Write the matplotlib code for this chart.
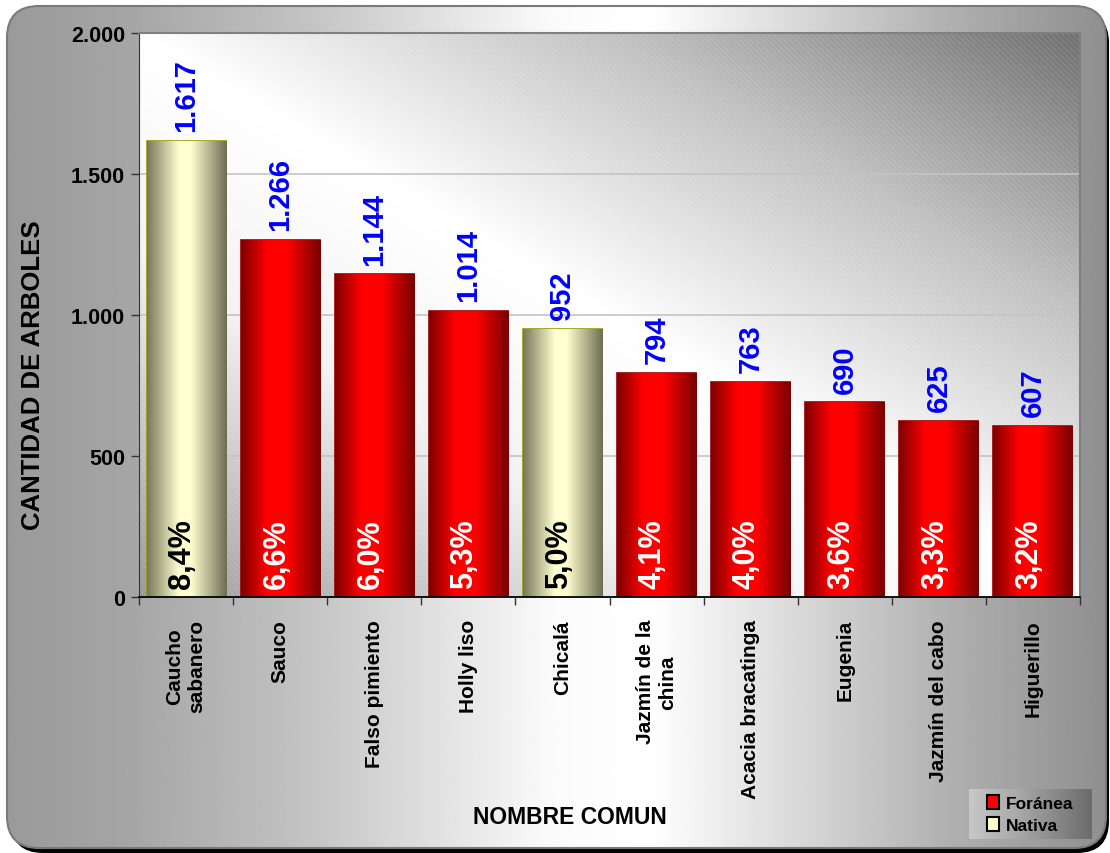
import matplotlib
matplotlib.use("Agg")
import matplotlib.pyplot as plt
import numpy as np
from matplotlib.patches import FancyBboxPatch, Rectangle, Patch
from matplotlib.ticker import FuncFormatter, FixedLocator

plt.rcParams['font.family'] = ['Liberation Sans', 'DejaVu Sans']
plt.rcParams['hatch.linewidth'] = 0.5

# data
names = ['Caucho\nsabanero', 'Sauco', 'Falso pimiento', 'Holly liso', 'Chicalá',
         'Jazmín de la\nchina', 'Acacia bracatinga', 'Eugenia', 'Jazmín del cabo', 'Higuerillo']
counts = [1617, 1266, 1144, 1014, 952, 794, 763, 690, 625, 607]
percents = [8.4, 6.6, 6.0, 5.3, 5.0, 4.1, 4.0, 3.6, 3.3, 3.2]
origin = ['Nativa', 'Foránea', 'Foránea', 'Foránea', 'Nativa',
          'Foránea', 'Foránea', 'Foránea', 'Foránea', 'Foránea']
yticks = [0, 500, 1000, 1500, 2000]

W, H = 1110, 854
fig = plt.figure(figsize=(W / 100, H / 100), dpi=100)
fig.patch.set_facecolor('white')

# ---- outer rounded panel with horizontal grey gradient ----
bg = fig.add_axes([0, 0, 1, 1], zorder=-1)
bg.set_xlim(0, W)
bg.set_ylim(0, H)
bg.axis('off')

shadow = FancyBboxPatch((11, 0), W - 12, H - 12,
                        boxstyle="round,pad=0,rounding_size=32",
                        facecolor='black', edgecolor='none')
bg.add_patch(shadow)
panel = FancyBboxPatch((7, 5), W - 11, H - 12,
                       boxstyle="round,pad=0,rounding_size=32",
                       facecolor='none', edgecolor='#7a7a7a', lw=1.5, zorder=3)
bg.add_patch(panel)
xs = np.linspace(0, W, 600)
gx = np.interp(xs, [0, 130, 300, 400, 550, 650, 800, 950, 1110],
               [0.60, 0.65, 0.76, 0.85, 0.98, 1.0, 0.85, 0.69, 0.56])
img = bg.imshow(np.tile(gx, (2, 1)), cmap='gray', vmin=0, vmax=1,
                extent=(0, W, 0, H), aspect='auto', zorder=2)
img.set_clip_path(panel)

# legend box gradient
lx = np.linspace(0, 1, 200)
lg = np.interp(lx, [0, 0.4, 1], [0.78, 0.66, 0.42])
bg.imshow(np.tile(lg, (2, 1)), cmap='gray', vmin=0, vmax=1,
          extent=(969, 1092, H - 840, H - 790), aspect='auto', zorder=4)
bg.set_xlim(0, W)
bg.set_ylim(0, H)

# ---- plot area ----
ax = fig.add_axes([139 / W, (H - 598) / H, (1080 - 139) / W, (598 - 34) / H])
ax.set_facecolor('none')
x = np.arange(len(names))

u, v = np.meshgrid(np.linspace(0, 1, 300), np.linspace(1, 0, 200))
t = (u + v) / 2
area = np.interp(t, [0, 0.3, 0.5, 0.75, 1.0], [0.60, 0.95, 1.0, 0.76, 0.44])
ax.imshow(area, cmap='gray', vmin=0, vmax=1, extent=(-0.5, 9.5, 0, 2000),
          aspect='auto', zorder=0)
ax.add_patch(Rectangle((-0.5, 0), 10, 2000, facecolor='none',
                       edgecolor=(1, 1, 1, 0.18), lw=0, hatch='\\' * 6, zorder=0.5))

for yv in yticks[1:-1]:
    ax.axhline(yv, color='#c4c4c4', lw=1.2, zorder=1)

fills = {'Foránea': '#ff0000', 'Nativa': '#ffffcc'}
edges = {'Foránea': '#9a0000', 'Nativa': '#999900'}
bars = ax.bar(x, counts, width=0.84,
              color=[fills[o] for o in origin],
              edgecolor=[edges[o] for o in origin], lw=1.2, zorder=2)

# cylinder-like horizontal shading inside each bar
s = np.linspace(0, 1, 120)
red_prof = np.array([np.interp(s, [0, 0.33, 0.58, 1], c) for c in
                     ([0.50, 1.0, 1.0, 0.47], [0, 0, 0, 0], [0, 0, 0, 0])]).T
cream_prof = np.array([np.interp(s, [0, 0.4, 0.55, 1], c) for c in
                       ([0.47, 1.0, 1.0, 0.43], [0.47, 1.0, 1.0, 0.43], [0.36, 0.82, 0.82, 0.33])]).T
for b, o in zip(bars, origin):
    prof = red_prof if o == 'Foránea' else cream_prof
    im = ax.imshow(prof[np.newaxis, :, :], extent=(b.get_x(), b.get_x() + b.get_width(),
                                                    0, b.get_height()),
                   aspect='auto', zorder=2.5)
    im.set_clip_path(b)

for xi, c, p, o in zip(x, counts, percents, origin):
    ax.text(xi, c + 35, f'{c:,}'.replace(',', '.'), rotation=90, ha='center', va='bottom',
            color='blue', fontsize=21, fontweight='bold', zorder=5)
    ax.text(xi - 0.04, 32, f'{p:.1f}%'.replace('.', ','), rotation=90, ha='center', va='bottom',
            color='black' if o == 'Nativa' else 'white', fontsize=22, fontweight='bold', zorder=5)

ax.set_xlim(-0.5, 9.5)
ax.set_ylim(0, 2000)
ax.set_yticks(yticks)
ax.yaxis.set_major_formatter(FuncFormatter(lambda val, pos: f'{val:,.0f}'.replace(',', '.')))
ax.tick_params(axis='y', length=6, width=1, color='#333333', labelsize=15.5, pad=4)
for lab in ax.get_yticklabels():
    lab.set_fontweight('bold')

ax.set_xticks(x)
ax.set_xticklabels(names, rotation=90, fontsize=15, fontweight='bold',
                   va='top', ha='center', multialignment='center')
ax.tick_params(axis='x', which='major', length=0, pad=16)
ax.xaxis.set_minor_locator(FixedLocator(np.arange(-0.5, 10, 1)))
ax.tick_params(axis='x', which='minor', length=6, width=1, color='#333333')

for side in ['top', 'right']:
    ax.spines[side].set_color('#808080')
    ax.spines[side].set_linewidth(1.5)
ax.spines['left'].set_color('#333333')
ax.spines['bottom'].set_color('black')
ax.spines['bottom'].set_linewidth(1.3)

fig.text(33 / W, 1 - 375 / H, 'CANTIDAD DE ARBOLES', rotation=90, ha='center', va='center',
         fontsize=18.5, fontweight='bold')
fig.text(570 / W, 1 - 818 / H, 'NOMBRE COMUN', ha='center', va='center',
         fontsize=16.5, fontweight='bold')

handles = [Patch(facecolor='#ff0000', edgecolor='black', lw=1.5, label='Foránea'),
           Patch(facecolor='#ffffcc', edgecolor='black', lw=1.5, label='Nativa')]
fig.legend(handles=handles, loc='center', bbox_to_anchor=(1030 / W, 1 - 815 / H),
           frameon=False, prop={'weight': 'bold', 'size': 12.5},
           handlelength=0.7, handleheight=0.9, handletextpad=0.4, labelspacing=0.35)

fig.savefig('out.png', dpi=100, facecolor=fig.get_facecolor())
